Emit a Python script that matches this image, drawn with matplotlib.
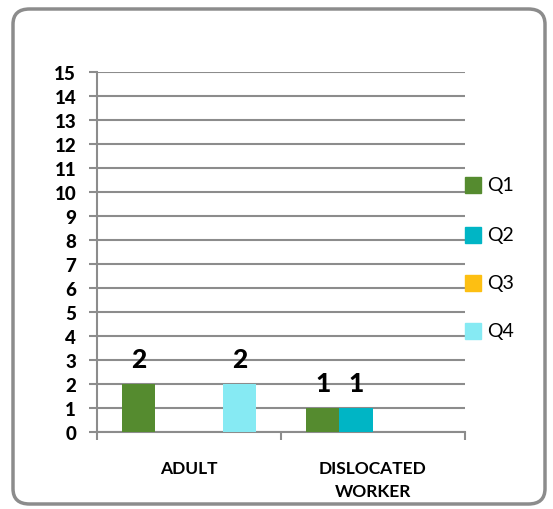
import matplotlib
matplotlib.use("Agg")
import matplotlib.pyplot as plt
from matplotlib.patches import FancyBboxPatch, Rectangle
import numpy as np

categories = ["ADULT", "DISLOCATED\nWORKER"]
series = ["Q1", "Q2", "Q3", "Q4"]
values = {
    "Q1": [2, 1],
    "Q2": [0, 1],
    "Q3": [0, 0],
    "Q4": [2, 0],
}
colors = {"Q1": "#558B2F", "Q2": "#00B5C5", "Q3": "#FDBF12", "Q4": "#86EAF3"}
yticks = list(range(0, 16))

plt.rcParams['font.family'] = ['Lato', 'DejaVu Sans']

W, H = 553, 510
fig = plt.figure(figsize=(W/100, H/100), dpi=100)

# rounded frame
frame = FancyBboxPatch((13/W, 1 - 505/H), (545-13)/W, (505-10)/H,
                       boxstyle="round,pad=0,rounding_size=0.03",
                       transform=fig.transFigure, fill=False,
                       edgecolor="#8c8c8c", linewidth=2.5)
fig.patches.append(frame)

ax = fig.add_axes([97/W, 1 - 433/H, (465-97)/W, (433-73)/H])
ax.set_xlim(0, 2)
ax.set_ylim(0, 15)

n = len(series)
group = 0.73
bw = group / n
for i, s in enumerate(series):
    xs = np.arange(len(categories)) + 0.5 - group/2 + bw*(i + 0.5)
    vals = values[s]
    ax.bar(xs, vals, width=bw, color=colors[s], zorder=3, label=s)
    for x, v in zip(xs, vals):
        if v:
            ax.text(x, v + 0.55, str(v), ha="center", va="bottom",
                    fontsize=19, fontweight="black", color="black", zorder=4)

ax.set_yticks(yticks)
ax.set_yticklabels([str(t) for t in yticks], fontsize=13.5, fontweight="black")
ax.yaxis.grid(True, color="#8c8c8c", linewidth=1.5, zorder=0)
ax.tick_params(axis="y", length=6, width=1.5, color="#8c8c8c", pad=9)
ax.set_xticks([0, 1, 2])
ax.set_xticklabels([])
ax.set_xticks([0.5, 1.5], minor=True)
ax.set_xticklabels(categories, minor=True, fontsize=12.5, fontweight="bold",
                   linespacing=1.55)
ax.tick_params(axis="x", which="major", length=6, width=1.5, color="#8c8c8c", direction="out")
ax.tick_params(axis="x", which="minor", length=0, pad=20)
for sp in ["top", "right"]:
    ax.spines[sp].set_visible(False)
ax.spines["left"].set_color("#8c8c8c")
ax.spines["left"].set_linewidth(1.5)
ax.spines["bottom"].set_color("#8c8c8c")
ax.spines["bottom"].set_linewidth(1.5)
ax.set_axisbelow(True)

# legend
leg_y = [186, 236, 284, 332]
for s, y in zip(series, leg_y):
    fig.patches.append(Rectangle((465/W, 1 - (y+8)/H), 16/W, 16/H,
                                 transform=fig.transFigure, color=colors[s]))
    fig.text(487/W, 1 - y/H, s, fontsize=14, va="center", ha="left")

fig.savefig("out.png", dpi=100)
